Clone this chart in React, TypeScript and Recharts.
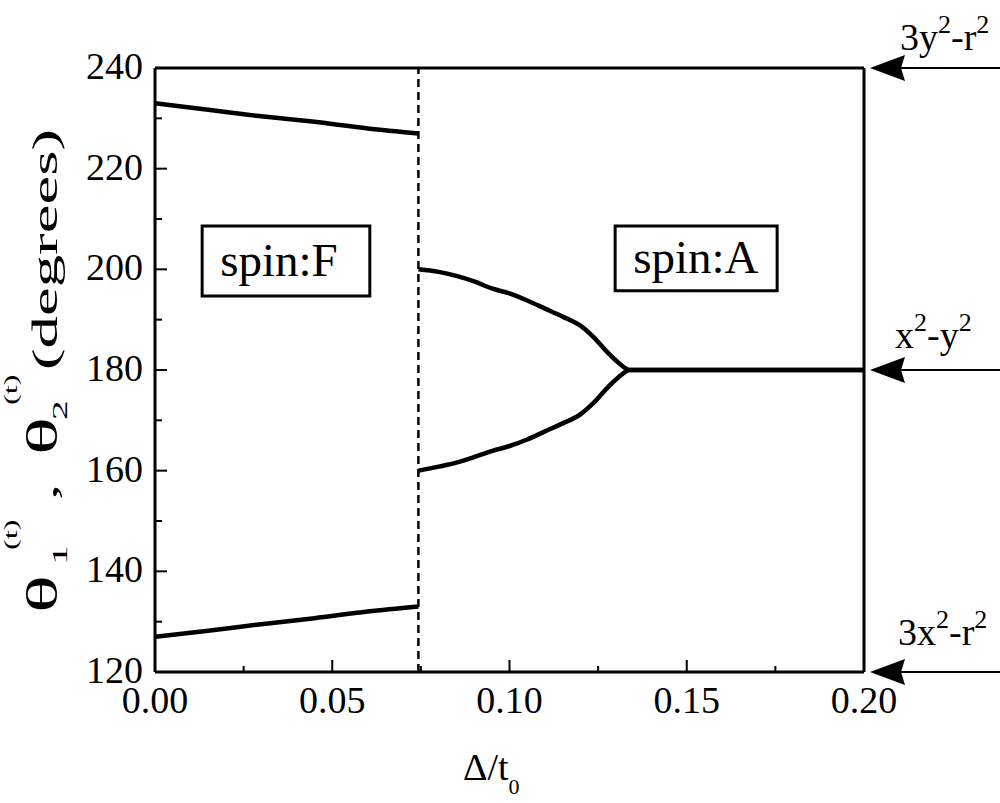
import React from 'react'
import {
  LineChart, Line, XAxis, YAxis, ReferenceLine, ReferenceArea, ReferenceDot,
} from 'recharts'

// spin:F branch (ferro), Δ/t0 below the transition
const fDelta  = [0, 0.015, 0.03, 0.045, 0.06, 0.0743]
const fTheta1 = [233.0, 231.7, 230.4, 229.3, 228.0, 227.0]
const fTheta2 = [127.0, 128.2, 129.5, 130.7, 132.0, 133.0]

// spin:A branch (antiferro)
const aDelta  = [0.0743, 0.08, 0.085, 0.09, 0.095, 0.1, 0.105, 0.11, 0.115, 0.12, 0.1235, 0.127, 0.1305, 0.134, 0.2]
const aTheta1 = [200.0, 199.5, 198.7, 197.6, 196.2, 195.2, 193.8, 192.2, 190.6, 188.8, 186.7, 184.0, 181.6, 180.0, 180.0]
const aTheta2 = [160.0, 160.8, 161.6, 162.7, 163.9, 164.9, 166.2, 167.8, 169.4, 171.2, 173.3, 176.0, 178.4, 180.0, 180.0]

const xTicks = [0, 0.025, 0.05, 0.075, 0.1, 0.125, 0.15, 0.175, 0.2]
const yTicks = [120, 130, 140, 150, 160, 170, 180, 190, 200, 210, 220, 230, 240]
const transition = 0.0743

const orbitals = [
  { theta: 240, parts: ['3y', '2', '-r', '2'], dx: 36, dy: -18 },
  { theta: 180, parts: ['x', '2', '-y', '2'], dx: 31, dy: -22 },
  { theta: 120, parts: ['3x', '2', '-r', '2'], dx: 34, dy: -27 },
]

const toRows = (xs: number[], ys: number[]) => xs.map((x, i) => ({ x, y: ys[i] }))

const FONT = '"Liberation Serif", "Times New Roman", serif'

const isMajor = (v: number, step: number) => Math.abs(v / step - Math.round(v / step)) < 1e-6

function BottomTick({ x, y, payload }: any) {
  const v = payload.value
  const major = isMajor(v, 0.05)
  return (
    <g>
      <line x1={x} x2={x} y1={y} y2={y - (major ? 12 : 6)} stroke="#000" strokeWidth={2} />
      {major && (
        <text x={x} y={y + 41} textAnchor="middle" fontSize={38} fontFamily={FONT} fill="#000">
          {v.toFixed(2)}
        </text>
      )}
    </g>
  )
}

function TopTick({ x, y, payload }: any) {
  const major = isMajor(payload.value, 0.05)
  return <line x1={x} x2={x} y1={y} y2={y + (major ? 12 : 6)} stroke="#000" strokeWidth={2} />
}

function LeftTick({ x, y, payload }: any) {
  const v = payload.value
  const major = isMajor(v, 20)
  return (
    <g>
      <line x1={x} x2={x + (major ? 12 : 7)} y1={y} y2={y} stroke="#000" strokeWidth={2} />
      {major && (
        <text x={x - 12} y={y + 11} textAnchor="end" fontSize={38} fontFamily={FONT} fill="#000">
          {v}
        </text>
      )}
    </g>
  )
}

function RightTick({ x, y, payload }: any) {
  const major = isMajor(payload.value, 20)
  return <line x1={x} x2={x - (major ? 12 : 7)} y1={y} y2={y} stroke="#000" strokeWidth={2} />
}

// rotated title, stretched along the text direction like the original export
function YTitle(props: any) {
  const vb = props.viewBox ?? {}
  const bottom = vb.y != null && vb.height ? vb.y + vb.height - 59 : 613
  const t = { fontFamily: FONT, fill: '#000' }
  return (
    <g transform={`translate(57, ${bottom}) rotate(-90) scale(1.8, 1)`}>
      <text x={0} y={0} fontSize={44} {...t}>θ</text>
      <text x={26.7} y={10} fontSize={22} {...t}>1</text>
      <text x={35} y={-40} fontSize={18} {...t}>(t)</text>
      <text x={62.8} y={0} fontSize={36} {...t}>,</text>
      <text x={87.8} y={0} fontSize={44} {...t}>θ</text>
      <text x={107.2} y={10} fontSize={22} {...t}>2</text>
      <text x={115.6} y={-40} fontSize={18} {...t}>(t)</text>
      <text x={135} y={0} fontSize={36} {...t}>(degrees)</text>
    </g>
  )
}

function XTitle(props: any) {
  const vb = props.viewBox ?? {}
  const x0 = vb.x != null ? vb.x + 308 : 463
  const y0 = vb.y != null ? vb.y + 108 : 780
  return (
    <text x={x0} y={y0} fontSize={38} fontFamily={FONT} fill="#000">
      Δ/t<tspan fontSize={22} dy={14}>0</tspan>
    </text>
  )
}

function BoxLabel(props: any) {
  const vb = props.viewBox ?? props
  return (
    <text x={vb.x + 18} y={vb.y + vb.height / 2 + 15} fontSize={47} fontFamily={FONT} fill="#000">
      {props.text}
    </text>
  )
}

function OrbitalArrow({ cx, cy, parts, dx, dy }: any) {
  const tip = cx + 6
  const base = cx + 41
  return (
    <g>
      <polygon points={`${tip},${cy} ${base},${cy - 13} ${base - 4},${cy} ${base},${cy + 13}`} fill="#000" />
      <line x1={base - 4} x2={cx + 140} y1={cy} y2={cy} stroke="#000" strokeWidth={2} />
      <text x={cx + dx} y={cy + dy} fontSize={38} fontFamily={FONT} fill="#000">
        {parts.map((p: string, i: number) =>
          i % 2 === 1
            ? <tspan key={i} fontSize={26} dy={-17}>{p}</tspan>
            : <tspan key={i} dy={i === 0 ? 0 : 17}>{p}</tspan>
        )}
      </text>
    </g>
  )
}

export default function App() {
  const axisLine = { stroke: '#000', strokeWidth: 3 }
  return (
    <div style={{ position: 'absolute', left: 0, top: 0, background: '#fff' }}>
      <LineChart width={1000} height={803} margin={{ top: 67, right: 135, bottom: 130, left: 154 }}>
        <XAxis xAxisId={0} type="number" dataKey="x" domain={[0, 0.2]} ticks={xTicks} interval={0}
          height={1} tickSize={0} tickMargin={0} tickLine={false} axisLine={axisLine}
          tick={<BottomTick />} label={<XTitle />} />
        <XAxis xAxisId="top" orientation="top" type="number" dataKey="x" domain={[0, 0.2]} ticks={xTicks}
          interval={0} height={1} tickSize={0} tickMargin={0} tickLine={false} axisLine={axisLine}
          tick={<TopTick />} />
        <YAxis yAxisId={0} type="number" domain={[120, 240]} ticks={yTicks} interval={0}
          width={1} tickSize={0} tickMargin={0} tickLine={false} axisLine={axisLine}
          tick={<LeftTick />} label={<YTitle />} />
        <YAxis yAxisId="right" orientation="right" type="number" domain={[120, 240]} ticks={yTicks}
          interval={0} width={1} tickSize={0} tickMargin={0} tickLine={false} axisLine={axisLine}
          tick={<RightTick />} />

        <ReferenceLine x={transition} stroke="#000" strokeWidth={2.5} strokeDasharray="8 5" />

        <ReferenceArea x1={0.0133} x2={0.0606} y1={194.7} y2={208.6} fill="#fff" fillOpacity={1}
          stroke="#000" strokeWidth={3} label={<BoxLabel text="spin:F" />} />
        <ReferenceArea x1={0.1298} x2={0.1755} y1={195.75} y2={208.6} fill="#fff" fillOpacity={1}
          stroke="#000" strokeWidth={3} label={<BoxLabel text="spin:A" />} />

        <Line data={toRows(fDelta, fTheta1)} dataKey="y" type="monotone" stroke="#000" strokeWidth={4.5}
          dot={false} isAnimationActive={false} />
        <Line data={toRows(fDelta, fTheta2)} dataKey="y" type="monotone" stroke="#000" strokeWidth={4.5}
          dot={false} isAnimationActive={false} />
        <Line data={toRows(aDelta, aTheta1)} dataKey="y" type="monotone" stroke="#000" strokeWidth={4.5}
          dot={false} isAnimationActive={false} />
        <Line data={toRows(aDelta, aTheta2)} dataKey="y" type="monotone" stroke="#000" strokeWidth={4.5}
          dot={false} isAnimationActive={false} />

        {orbitals.map((o) => (
          <ReferenceDot key={o.theta} x={0.2} y={o.theta} ifOverflow="visible"
            shape={(p: any) => <OrbitalArrow cx={p.cx} cy={p.cy} parts={o.parts} dx={o.dx} dy={o.dy} />} />
        ))}
      </LineChart>
    </div>
  )
}
